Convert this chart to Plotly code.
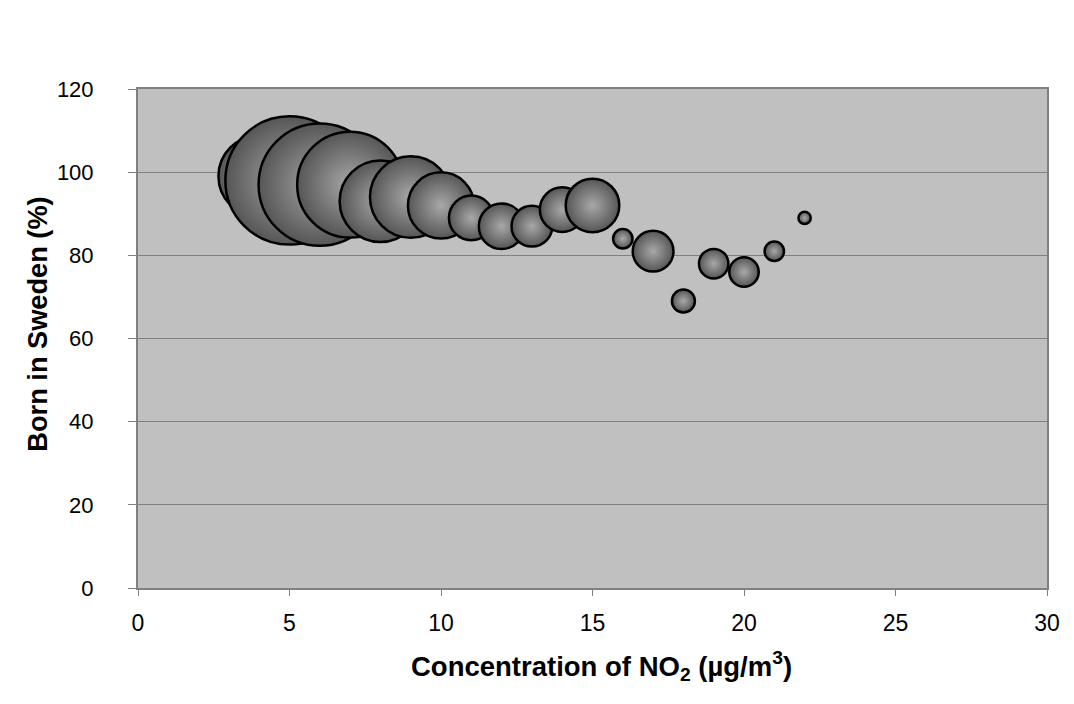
import plotly.graph_objects as go

# NO2 concentration (µg/m3)
no2 = [4, 5, 6, 7, 8, 9, 10, 11, 12, 13, 14, 15, 16, 17, 18, 19, 20, 21, 22]
# Born in Sweden (%)
born_sweden = [99, 98, 97, 97, 93, 94, 92, 89, 87, 87, 91, 92, 84, 81, 69, 78, 76, 81, 89]
# Relative bubble size (population weight)
bubble_size = [17.6, 43.6, 39.7, 29.7, 17.6, 17.6, 11.6, 5.3, 5.5, 4.4, 5.3, 7.6,
               1.0, 4.4, 1.4, 2.3, 2.3, 1.0, 0.4]

x_ticks = [0, 5, 10, 15, 20, 25, 30]
y_ticks = [0, 20, 40, 60, 80, 100, 120]

x_title = "<b>Concentration of NO<sub>2</sub> (µg/m<sup>3</sup>)</b>"
y_title = "<b>Born in Sweden (%)</b>"

fig = go.Figure()
fig.add_trace(go.Scatter(
    x=no2, y=born_sweden, mode="markers",
    marker=dict(
        size=bubble_size, sizemode="area", sizeref=0.0053,
        color="#565656",
        gradient=dict(type="radial", color="#a8a8a8"),
        line=dict(color="#000000", width=2.5),
        opacity=1,
    ),
    showlegend=False,
    hovertemplate="NO2: %{x}<br>Born in Sweden: %{y}%<extra></extra>",
))

font = "Liberation Sans, Arial, sans-serif"
fig.update_layout(
    width=1074, height=704,
    margin=dict(l=130, r=35, t=81, b=124),
    paper_bgcolor="#ffffff",
    plot_bgcolor="#c0c0c0",
    font=dict(family=font, color="#000000"),
    xaxis=dict(
        range=[0, 30], tickvals=x_ticks, ticktext=[str(v) for v in x_ticks],
        showgrid=False, zeroline=False,
        showline=True, linecolor="#808080", linewidth=2, mirror=True,
        ticks="outside", ticklen=6, tickcolor="#808080", tickwidth=1,
        tickfont=dict(size=23, family=font), ticklabelstandoff=7,
    ),
    yaxis=dict(
        range=[0, 120], tickvals=y_ticks, ticktext=[str(v) for v in y_ticks],
        showgrid=True, gridcolor="#808080", gridwidth=1, zeroline=False,
        showline=True, linecolor="#808080", linewidth=2, mirror=True,
        ticks="outside", ticklen=8, tickcolor="#808080", tickwidth=1,
        tickfont=dict(size=22, family=font), ticklabelstandoff=30,
    ),
    annotations=[
        dict(text=x_title, xref="paper", yref="paper", x=0.510, y=-0.156,
             xanchor="center", yanchor="middle", showarrow=False,
             font=dict(size=27.5, family=font, color="#000000")),
        dict(text=y_title, xref="paper", yref="paper", x=-0.111, y=0.528,
             xanchor="center", yanchor="middle", textangle=-90, showarrow=False,
             font=dict(size=27.2, family=font, color="#000000")),
    ],
)

fig.write_html("out.html")
